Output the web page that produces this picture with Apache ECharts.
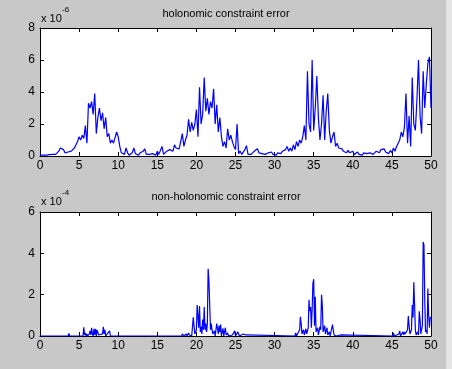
<!DOCTYPE html>
<html>
<head>
<meta charset="utf-8">
<script src="https://cdn.jsdelivr.net/npm/echarts@6/dist/echarts.min.js"></script>
<style>
html,body{margin:0;padding:0;background:#c8c8c8;}
#chart{width:452px;height:369px;}
</style>
</head>
<body>
<div id="chart"></div>
<script>
// ---- Data ----
var titleTop = 'holonomic constraint error';
var titleBottom = 'non-holonomic constraint error';
var xTicks = [0, 5, 10, 15, 20, 25, 30, 35, 40, 45, 50];
var yTicksTop = [0, 2, 4, 6, 8];
var yTicksBottom = [0, 2, 4, 6];
var scaleTop = 'x 10';
var expTop = '-6';
var scaleBottom = 'x 10';
var expBottom = '-4';

// holonomic error (x1e-6), sampled every 0.2 s from t=0 to t=50
var holoStep = 0.2;
var holoValues = [
  0.05,0.03,0.05,0.04,0.06,
  0.05,0.08,0.04,0.1,0.06,
  0.1,0.15,0.3,0.5,0.55,
  0.4,0.2,0.3,0.25,0.35,
  0.3,0.35,0.5,0.4,0.9,
  1.2,1.0,1.3,1.1,1.9,
  0.8,3.3,3.0,3.4,2.6,
  3.9,1.4,2.4,3.0,2.2,
  2.7,1.7,2.4,1.2,1.4,
  0.8,1.0,0.8,0.9,1.5,
  1.2,0.6,0.2,0.3,0.1,
  0.5,0.2,0.05,0.1,0.2,
  0.5,0.15,0.1,0.05,0.2,
  0.1,0.3,0.45,0.1,0.05,
  0.1,0.05,0.15,0.1,0.05,
  0.3,0.1,0.05,0.6,0.1,
  0.15,0.3,0.2,0.4,0.5,
  0.3,0.7,0.5,0.4,0.45,
  0.4,1.4,0.6,1.0,1.3,
  2.3,1.5,2.1,1.6,2.0,
  2.9,1.2,4.3,2.0,2.6,
  4.9,2.8,3.6,2.6,3.4,
  3.0,4.2,2.0,3.2,1.5,
  2.4,1.2,0.6,0.9,0.5,
  1.7,1.0,1.3,0.9,0.6,
  0.4,2.0,0.15,0.3,0.1,
  0.05,0.4,0.65,0.1,0.15,
  0.1,0.2,0.3,0.2,0.45,
  0.2,0.3,0.15,0.2,0.1,
  0.05,0.2,0.1,0.25,0.1,
  0.15,0.05,0.2,0.3,0.15,
  0.3,0.25,0.4,0.6,0.3,
  0.5,0.3,0.7,0.4,0.9,
  0.6,1.0,0.8,1.2,1.9,
  1.0,5.3,2.0,1.5,6.0,
  1.6,3.0,5.0,2.4,1.0,
  2.0,3.8,1.0,2.8,3.9,
  1.6,0.8,1.2,1.5,0.6,
  0.8,0.5,0.4,0.45,0.3,
  0.3,0.2,0.35,0.2,0.25,
  0.3,0.1,0.2,0.25,0.1,
  0.15,0.05,0.2,0.1,0.15,
  0.1,0.2,0.15,0.1,0.2,
  0.3,0.35,0.2,0.4,0.3,
  0.45,0.25,0.3,0.15,0.35,
  0.2,0.5,0.3,0.6,0.8,
  1.0,1.5,1.2,1.8,3.9,
  0.8,2.5,0.6,4.9,2.0,
  1.6,3.5,6.0,2.5,1.4,
  5.3,3.0,4.5,5.8,6.2,
  3.0
];

// non-holonomic error (x1e-4): sample times and values
var nonHoloTimes = [
  0,3.6,3.7,3.8,
  5.5,5.6,5.7,5.8,5.9,6.0,6.1,6.3,6.4,6.5,6.6,6.7,6.8,6.9,7.0,7.1,7.2,7.3,7.4,7.5,7.6,7.7,8.0,8.1,8.2,8.3,8.4,8.6,8.7,8.9,9.0,9.1,9.2,
  10.9,11.0,11.1,
  18.1,18.2,18.3,18.4,18.7,18.8,19.0,19.1,19.3,19.4,19.6,19.7,19.8,19.9,20.0,20.1,20.2,20.3,20.4,20.5,20.6,20.7,20.8,20.9,21.0,21.1,21.2,21.3,21.4,21.5,21.6,21.7,21.8,21.9,22.0,22.1,22.3,22.4,22.6,22.7,22.8,22.9,23.0,23.1,23.2,23.4,23.5,23.7,23.8,24.0,24.1,24.6,24.7,24.9,25.0,25.2,25.3,25.4,25.5,26.0,26.1,26.3,26.4,
  32.6,32.7,32.8,33.2,33.3,33.4,33.5,33.7,33.8,34.0,34.1,34.3,34.4,34.5,34.6,34.7,34.8,34.9,35.0,35.1,35.2,35.3,35.5,35.6,35.8,35.9,36.0,36.1,36.2,36.4,36.5,36.7,36.8,37.0,37.1,37.4,37.5,37.6,37.8,37.9,38.4,38.5,
  45.1,45.2,45.3,45.9,46.0,46.1,46.4,46.5,46.6,46.7,46.8,47.0,47.1,47.2,47.3,47.5,47.6,47.7,47.8,47.9,48.0,48.1,48.3,48.4,48.5,48.6,48.7,48.9,49.0,49.1,49.2,49.3,49.4,49.5,49.6,49.7,49.8,49.9,50.0
];
var nonHoloValues = [
  0,0,0.12,0,
  0,0.42,0.05,0.15,0,0.1,0,0.1,0.25,0.05,0.4,0.1,0,0.35,0.05,0.35,0,0.3,0.35,0.05,0.1,0,0.1,0.45,0.1,0.3,0,0.1,0.05,0.25,0,0.05,0,
  0,0.05,0,
  0,0.1,0.15,0,0.1,0,0.15,0.05,0.1,0,0.9,0.85,0.1,0.2,0.3,1.5,1.45,0.4,1.45,0.2,0.45,0.1,0.8,0.3,1.4,0.3,0.6,0.2,0.6,3.25,2.7,1.5,0.3,0.6,0.3,0.1,0.25,0,0.6,0.55,0.1,0.5,0.2,0.55,0,0.37,0,0.4,0.05,0.15,0,0.05,0,0.25,0,0.05,0.2,0.1,0,0.1,0.05,0.05,0,
  0,0.15,0,0.3,0.93,0.6,0.1,0.3,0.05,0.35,0.1,0.4,1.75,1.2,1.4,0.4,1.3,2.55,2.75,0.5,1.9,0.2,0.4,0.05,0.45,0.3,2.0,1.5,0.2,0.5,0.1,0.4,0.05,0.2,0,0.55,0.3,0.05,0.1,0,0.05,0,
  0,0.15,0,0.1,0.25,0,0.2,0.05,0.2,0.1,0.05,0.3,0.97,0.5,0.1,0.3,1.5,0.9,2.6,1.5,0.3,0.05,0.2,0.05,1.2,0.8,0.1,0.5,4.55,4.4,1.8,0.2,0.3,0.1,2.3,1.0,0.4,0.9,0.9
];

// ---- Build series data ----
var holoData = holoValues.map(function (v, i) { return [+(i * holoStep).toFixed(2), v]; });
var nonHoloData = nonHoloTimes.map(function (t, i) { return [t, nonHoloValues[i]]; });

var FONT = 'Liberation Sans, Arial, sans-serif';
var axisCol = '#000';

function xAx(gi, pos, showLabel) {
  return {
    type: 'value', gridIndex: gi, position: pos, min: xTicks[0], max: xTicks[xTicks.length - 1], interval: 5,
    axisLine: { show: true, onZero: false, lineStyle: { color: axisCol, width: 1 } },
    axisTick: { show: true, inside: true, length: 4, lineStyle: { color: axisCol } },
    axisLabel: { show: showLabel, color: '#000', fontFamily: FONT, fontSize: 12, margin: 4 },
    splitLine: { show: false }
  };
}
function yAx(gi, pos, showLabel, ticks) {
  return {
    type: 'value', gridIndex: gi, position: pos, min: ticks[0], max: ticks[ticks.length - 1], interval: 2,
    axisLine: { show: true, onZero: false, lineStyle: { color: axisCol, width: 1 } },
    axisTick: { show: true, inside: true, length: 4, lineStyle: { color: axisCol } },
    axisLabel: { show: showLabel, color: '#000', fontFamily: FONT, fontSize: 12, margin: 5 },
    splitLine: { show: false }
  };
}

var chart = echarts.init(document.getElementById('chart'), null, { renderer: 'canvas' });
chart.setOption({
  animation: false,
  backgroundColor: '#c8c8c8',
  grid: [
    { left: 40, top: 28, width: 391, height: 128, show: true, backgroundColor: '#fff', borderWidth: 0 },
    { left: 40, top: 212, width: 391, height: 124, show: true, backgroundColor: '#fff', borderWidth: 0 }
  ],
  xAxis: [xAx(0, 'bottom', true), xAx(0, 'top', false), xAx(1, 'bottom', true), xAx(1, 'top', false)],
  yAxis: [yAx(0, 'left', true, yTicksTop), yAx(0, 'right', false, yTicksTop), yAx(1, 'left', true, yTicksBottom), yAx(1, 'right', false, yTicksBottom)],
  graphic: [
    { type: 'rect', right: 0, top: 0, shape: { width: 6, height: 369 }, style: { fill: '#e4e4e4' } },
    { type: 'text', left: 'center', top: 8, style: { text: titleTop, font: '11px ' + FONT, fill: '#000', x: 0 } },
    { type: 'text', left: 41, top: 13, style: { text: scaleTop, font: '11px ' + FONT, fill: '#000' } },
    { type: 'text', left: 62, top: 6, style: { text: expTop, font: '8px ' + FONT, fill: '#000' } },
    { type: 'text', left: 'center', top: 191, style: { text: titleBottom, font: '11px ' + FONT, fill: '#000' } },
    { type: 'text', left: 41, top: 196, style: { text: scaleBottom, font: '11px ' + FONT, fill: '#000' } },
    { type: 'text', left: 62, top: 189, style: { text: expBottom, font: '8px ' + FONT, fill: '#000' } }
  ],
  series: [
    { type: 'line', xAxisIndex: 0, yAxisIndex: 0, data: holoData, showSymbol: false, symbol: 'none',
      lineStyle: { color: '#0000ff', width: 1.2 }, z: 5 },
    { type: 'line', xAxisIndex: 2, yAxisIndex: 2, data: nonHoloData, showSymbol: false, symbol: 'none',
      lineStyle: { color: '#0000ff', width: 1.2 }, z: 5 }
  ]
});
</script>
</body>
</html>
